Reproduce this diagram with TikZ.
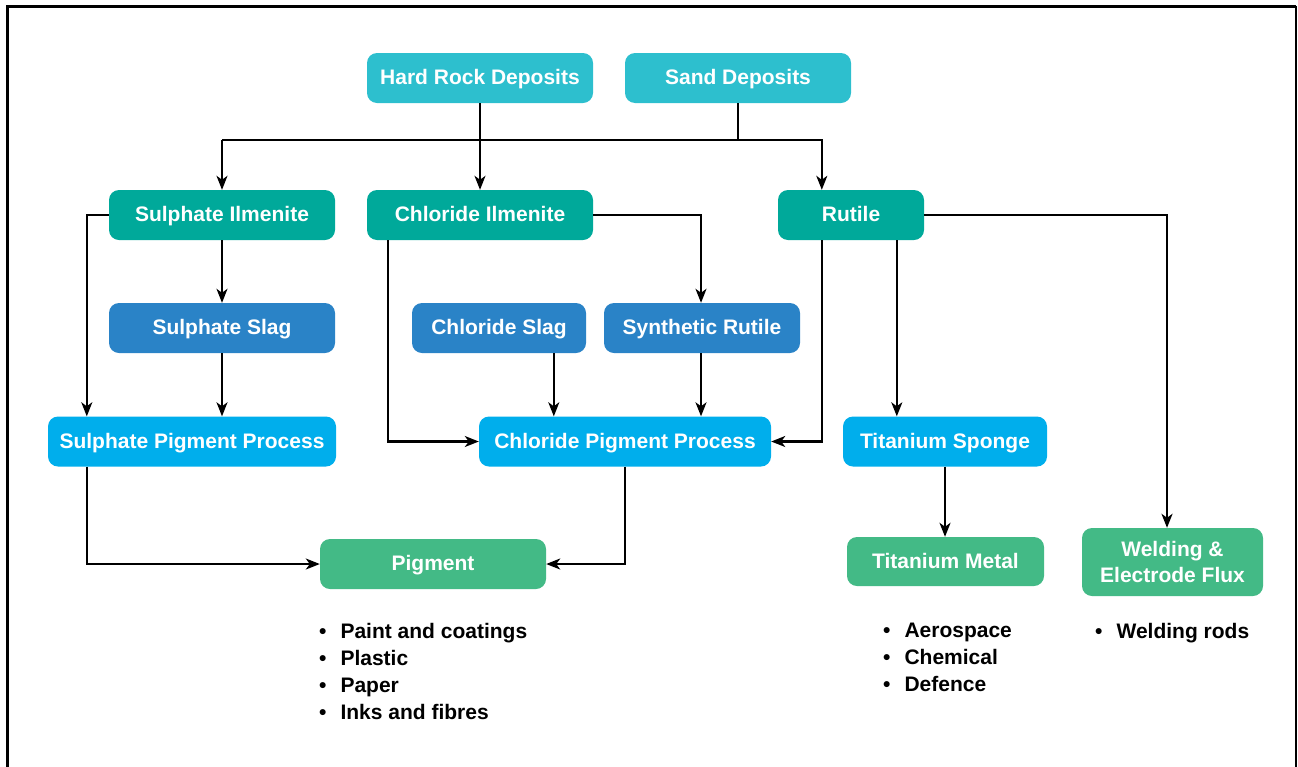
\documentclass[tikz,border=0pt]{standalone}
\usepackage{fontspec}
\setmainfont{Liberation Sans}
\usetikzlibrary{arrows.meta}
\definecolor{cDep}{HTML}{2DBFCE}
\definecolor{cIlm}{HTML}{00A99A}
\definecolor{cSlag}{HTML}{2A83C7}
\definecolor{cProc}{HTML}{00AEEC}
\definecolor{cProd}{HTML}{43BA86}
\tikzset{
  box/.style={rounded corners=10pt, minimum height=50pt, inner sep=0pt, text=white, align=center,
    font=\bfseries\fontsize{21}{26}\selectfont},
  one/.style={text height=16.5pt, text depth=3.5pt},
  dep/.style={box, one, fill=cDep},
  ilm/.style={box, one, fill=cIlm},
  slag/.style={box, one, fill=cSlag},
  proc/.style={box, one, fill=cProc},
  prod/.style={box, fill=cProd},
  arr/.style={line width=2.1pt, -{Stealth[length=14pt,width=11pt,inset=4pt]}},
  ln/.style={line width=2.1pt},
  list/.style={anchor=north west, inner sep=0pt, align=left, font=\bfseries\fontsize{21}{27}\selectfont},
}
\newcommand{\blt}{\textbullet\hspace{14pt}}
\begin{document}
\begin{tikzpicture}[x=1pt,y=-1pt]
\useasboundingbox (0,0) rectangle (1298,766);
% frame
\draw[line width=3pt] (7,770) -- (7,6) -- (1296,6);
\draw[line width=2pt] (1296,6) -- (1296,770);

% nodes
\node[dep, minimum width=226pt] (hard) at (480,78) {Hard Rock Deposits};
\node[dep, minimum width=226pt] (sand) at (738,78) {Sand Deposits};
\node[ilm, minimum width=226pt] (sulI) at (222,215) {Sulphate Ilmenite};
\node[ilm, minimum width=226pt] (chlI) at (480,215) {Chloride Ilmenite};
\node[ilm, minimum width=146pt] (rut) at (851,215) {Rutile};
\node[slag, minimum width=226pt] (sulS) at (222,328) {Sulphate Slag};
\node[slag, minimum width=174pt] (chlS) at (499,328) {Chloride Slag};
\node[slag, minimum width=196pt] (synR) at (702,328) {Synthetic Rutile};
\node[proc, minimum width=288pt] (sPP) at (192,441.5) {Sulphate Pigment Process};
\node[proc, minimum width=292pt] (cPP) at (625,441.5) {Chloride Pigment Process};
\node[proc, minimum width=204pt] (tSp) at (945,441.5) {Titanium Sponge};
\node[prod, one, minimum width=226pt] (pig) at (433,564) {Pigment};
\node[prod, one, minimum width=197pt, minimum height=49pt] (tiM) at (945.5,561.5) {Titanium Metal};
\node[prod, minimum width=181pt, minimum height=68pt] (weld) at (1172.5,562) {Welding \&\\Electrode Flux};

% bullet lists
\node[list] (pigL) at (319,623) {\blt Paint and coatings\\\blt Plastic\\\blt Paper\\\blt Inks and fibres};
\node[list] (tiL) at (883,623) {\blt Aerospace\\\blt Chemical\\\blt Defence};
\node[list] (weldL) at (1095,623) {\blt Welding rods};

% connectors
\coordinate (bus) at (0,140);
\draw[arr] (hard.south) -- (chlI.north);
\draw[ln] (sand.south) -- (sand.south |- bus);
\draw[arr] (sulI.north |- bus) -- (sulI.north);
\draw[arr] (sulI.north |- bus) -| ([xshift=44pt]rut.north west);

\draw[arr] (sulI.west) -| ([xshift=39pt]sPP.north west);
\draw[arr] (sulI.south) -- (sulS.north);
\draw[arr] (sulS.south) -- (sulS.south |- sPP.north);
\draw[arr] ([xshift=39pt]sPP.south west) |- (pig.west);

\draw[arr] ([xshift=21pt]chlI.south west) |- (cPP.west);
\draw[arr] (chlI.east) -| ([xshift=-1pt]synR.north);
\draw[arr] ([xshift=142pt]chlS.south west) -- ([xshift=142pt]chlS.south west |- cPP.north);
\draw[arr] ([xshift=-1pt]synR.south) -- ([xshift=-1pt]synR.south |- cPP.north);
\draw[arr] (cPP.south) |- (pig.east);

\draw[arr] ([xshift=44pt]rut.south west) |- (cPP.east);
\draw[arr] ([xshift=119pt]rut.south west) -- ([xshift=119pt]rut.south west |- tSp.north);
\draw[arr] (rut.east) -| (weld.north -| 1167,0);
\draw[arr] (tSp.south) -- (tSp.south |- tiM.north);
\end{tikzpicture}
\end{document}
